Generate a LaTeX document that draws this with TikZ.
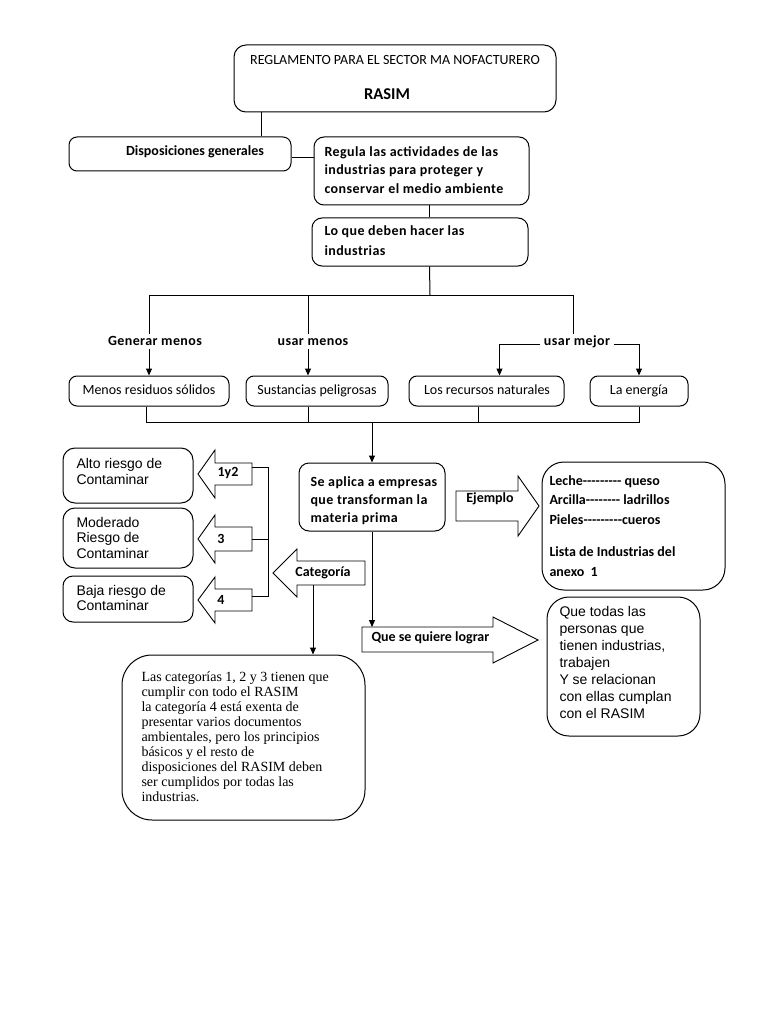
\documentclass[tikz,border=0pt]{standalone}
\usepackage{fontspec}
\setmainfont{Carlito}
\newfontfamily\calsp[LetterSpace=3]{Carlito}
\newfontfamily\arialf{Liberation Sans}
\newfontfamily\timesf{Liberation Serif}
\usetikzlibrary{arrows.meta,calc,fit}
\begin{document}
\begin{tikzpicture}[x=1pt,y=-1pt,line width=1pt,
  rbox/.style={draw, inner sep=0pt, rounded corners=#1},
  rbox/.default=10pt,
  lbl/.style={inner sep=0pt, font=\fontsize{14}{18.5}\selectfont\bfseries},
  lsp/.style={inner sep=0pt, font=\calsp\fontsize{14}{18.5}\selectfont\bfseries},
  lreg/.style={inner sep=0pt, font=\fontsize{14}{18.5}\selectfont},
  ltx/.style={inner sep=0pt, anchor=north west, align=left},
  arl/.style={inner sep=0pt, anchor=north west, align=left, font=\arialf\fontsize{14}{16.5}\selectfont},
  arr/.style={-{Triangle[width=6pt,length=7pt]}},
  blk/.style={draw, line width=0.9pt, line join=miter}
]
\useasboundingbox (0,0) rectangle (768,1024);

% title
\node[rbox=12pt, fit={(234,45)(556,112)}] (title) {};
\node[lreg, anchor=base] (t1) at (395,64.5) {REGLAMENTO PARA EL SECTOR MA NOFACTURERO};
\node[inner sep=0pt, anchor=base, font=\fontsize{16.5}{18}\selectfont\bfseries] (t2) at (387,99.5) {RASIM};

% disposiciones
\node[rbox=8pt, fit={(69,137)(291,171)}] (disp) {};
\node[lbl, anchor=base] (dispt) at (195,155.5) {Disposiciones generales};
\draw ($(title.south west)+(28,0)$) -- ($(disp.north west)+(193,0)$);

% regula
\node[rbox, fit={(314,137)(529,205)}] (reg) {};
\node[lsp, ltx] (regt) at (324,146) {Regula las actividades de las\\industrias para proteger y\\conservar el medio ambiente};
\draw ($(disp.east)+(0,4)$) -- ($(reg.west|-disp.east)+(0,4)$);

% lo que
\node[rbox, fit={(312,218)(528,266)}] (loq) {};
\node[lsp, ltx, font=\calsp\fontsize{14}{20}\selectfont\bfseries] (loqt) at (324,225) {Lo que deben hacer las\\industrias};
\draw ($(reg.south west)+(116,0)$) -- ($(loq.north west)+(118,0)$);

% tree
\coordinate (hub) at (430,295);
\coordinate (b1) at (149,295);
\coordinate (b2) at (308,295);
\coordinate (b3) at (573,295);
\draw ($(loq.south west)+(118,0)$) -- (hub);
\draw ($(b1)+(0,39)$) -- (b1) -- (b3) -- ($(b3)+(0,39)$);
\draw (b2) -- ($(b2)+(0,39)$);

\node[lsp, anchor=base] (gen) at (155,345.5) {Generar menos};
\node[lsp, anchor=base] (umen) at (313,345.5) {usar menos};
\node[lsp, anchor=base] (umej) at (577,345.5) {usar mejor};

\node[rbox=8pt, fit={(69,376)(229,406)}] (res) {};
\node[rbox=8pt, fit={(246,376)(388,406)}] (sust) {};
\node[rbox=8pt, fit={(409,376)(564,406)}] (recs) {};
\node[rbox=8pt, fit={(590,376)(688,406)}] (ener) {};
\node[lreg, anchor=base] (rest) at (149,394.5) {Menos residuos sólidos};
\node[lreg, anchor=base] (sustt) at (317,394.5) {Sustancias peligrosas};
\node[lreg, anchor=base] (recst) at (487,394.5) {Los recursos naturales};
\node[lreg, anchor=base] (enert) at (639,394.5) {La energía};

\draw[arr] ($(gen.south -| res.north)+(0,3)$) -- (res.north);
\draw[arr] ($(umen.south -| b2)+(0,3)$) -- (sust.north -| b2);
\draw[arr] ($(umej.west)+(-3,3)$) -| ($(recs.north)+(13,0)$);
\draw[arr] ($(umej.east)+(3,3)$) -| (ener.north);

% bottom collector
\coordinate (j) at (372,422);
\draw ($(res.south)+(-3,0)$) -- ++(0,16) -- ($(ener.south)+(0,16)$) -- (ener.south);
\draw (sust.south -| b2) -- ++(0,16);
\draw ($(recs.south)+(-8,0)$) -- ++(0,16);

% se aplica
\node[rbox, fit={(299,463)(445,531)}] (apl) {};
\node[lsp, ltx, font=\calsp\fontsize{14}{18}\selectfont\bfseries] (aplt) at (310,476) {Se aplica a empresas\\que transforman la\\materia prima};
\draw[arr] (j) -- (apl.north);

% ejemplo arrow
\draw[blk] (456,491) -- (518,491) -- (518,476) -- (539,506) -- (518,536) -- (518,521) -- (456,521) -- cycle;
\node[lbl, anchor=base] (ejt) at (490,502.5) {Ejemplo};

% leche box
\node[rbox=22pt, fit={(542,462)(725,590)}] (lec) {};
\node[lbl, ltx, font=\fontsize{14}{19.5}\selectfont\bfseries] (lect) at (549,475) {Leche-{}-{}-{}-{}-{}-{}-{}-{}- queso\\Arcilla-{}-{}-{}-{}-{}-{}-{}- ladrillos\\Pieles-{}-{}-{}-{}-{}-{}-{}-{}-cueros\\[13pt]Lista de Industrias del\\anexo\ \ 1};

% que se quiere lograr
\coordinate (qtop) at (372,627);
\draw[arr] (apl.south) -- (qtop);
\draw[blk] (362,627) -- (493,627) -- (493,617) -- (538,640) -- (493,663) -- (493,652) -- (362,652) -- cycle;
\node[lbl, anchor=base west] (qt) at (371,641.5) {Que se quiere lograr};

% que todas
\node[rbox=22pt, fit={(547,597)(700,736)}] (qtd) {};
\node[arl, font=\arialf\fontsize{14}{17}\selectfont] (qtdt) at (559,605.5) {Que todas las\\personas que\\tienen industrias,\\trabajen\\Y se relacionan\\con ellas cumplan\\con el RASIM};

% left boxes
\node[rbox=12pt, fit={(63,448)(193,503)}] (alto) {};
\node[rbox=12pt, fit={(63,508)(193,568)}] (mod) {};
\node[rbox=10pt, fit={(63,576)(193,622)}] (baja) {};
\node[arl] (altot) at (76,457.5) {Alto riesgo de\\Contaminar};
\node[arl, font=\arialf\fontsize{14}{15.5}\selectfont] (modt) at (76,516.5) {Moderado\\Riesgo de\\Contaminar};
\node[arl, font=\arialf\fontsize{14}{15.5}\selectfont] (bajat) at (76,584.5) {Baja riesgo de\\Contaminar};

% left block arrows
\draw[blk] (252,463) -- (215,463) -- (215,450) -- (198,474) -- (215,498) -- (215,485) -- (252,485) -- cycle;
\draw[blk] (252,527) -- (215,527) -- (215,515) -- (198,539) -- (215,563) -- (215,551) -- (252,551) -- cycle;
\draw[blk] (252,589) -- (215,589) -- (215,577) -- (198,600) -- (215,623) -- (215,611) -- (252,611) -- cycle;
\node[lbl, anchor=base] (a1t) at (228,476.5) {1y2};
\node[lbl, anchor=base] (a2t) at (221,543) {3};
\node[lbl, anchor=base] (a3t) at (221,604) {4};
\coordinate (s1) at (252,467);
\coordinate (s2) at (252,539);
\coordinate (s3) at (252,596);
\coordinate (v1) at (268,467);
\coordinate (v3) at (268,596);
\draw (s1) -- (v1) -- (v3) -- (s3);
\draw (s2) -- (s2 -| v1);

% categoria arrow
\draw[blk] (365,561) -- (297,561) -- (297,549) -- (273,573) -- (297,597) -- (297,585) -- (365,585) -- cycle;
\node[lbl, anchor=base] (catt) at (323,576.5) {Categoría};

% las categorias box
\node[rbox=30pt, fit={(122,655)(365,820)}] (cats) {};
\coordinate (cbot) at (313,585);
\draw[arr] (cbot) -- (cats.north -| cbot);
\node[ltx, inner sep=0pt, font=\timesf\fontsize{14}{15}\selectfont] (catst) at (141,671.5) {Las categorías 1, 2 y 3 tienen que\\cumplir con todo el RASIM\\la categoría 4 está exenta de\\presentar varios documentos\\ambientales, pero los principios\\básicos y el resto de\\disposiciones del RASIM deben\\ser cumplidos por todas las\\industrias.};
\end{tikzpicture}
\end{document}
